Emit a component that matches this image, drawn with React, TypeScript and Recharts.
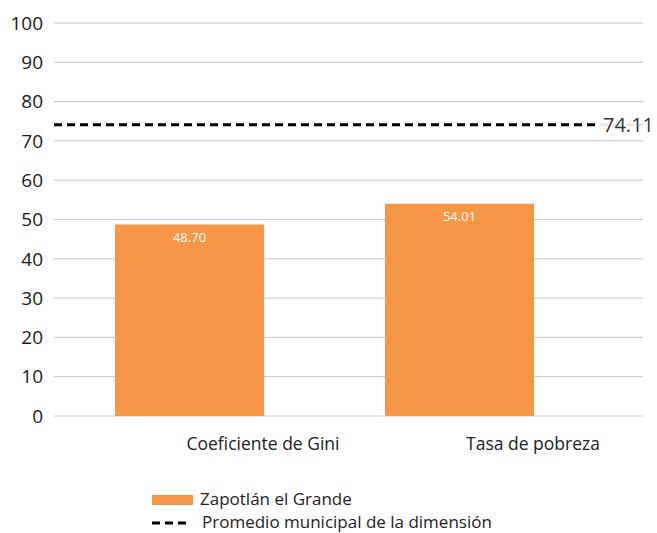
import { BarChart, Bar, XAxis, YAxis, CartesianGrid, ReferenceLine, Legend, LabelList } from "recharts";

// Indicadores de la dimensión, Zapotlán el Grande
const categories = ["Coeficiente de Gini", "Tasa de pobreza"];
const values = [48.7, 54.01];
const municipalAverage = 74.11;
const yTicks = [0, 10, 20, 30, 40, 50, 60, 70, 80, 90, 100];

const seriesName = "Zapotlán el Grande";
const averageName = "Promedio municipal de la dimensión";

const data = categories.map((name, i) => ({ name, value: values[i] }));

const FONT = "'Open Sans', 'Noto Sans', sans-serif";
const ORANGE = "#F79646";

function CategoryTick(props: any) {
  const { x, y, payload } = props;
  // labels sit under the right edge of each bar in the original
  return (
    <text x={x + 74} y={y} dy={26} textAnchor="middle" fontSize={17.5} fill="#222" fontFamily={FONT}>
      {payload.value}
    </text>
  );
}

function AverageLabel(props: any) {
  const { viewBox } = props;
  const right = viewBox.x + viewBox.width;
  return (
    <g>
      <rect x={right - 47} y={viewBox.y - 16} width={70} height={31} fill="#fff" fillOpacity={0.9} />
      <text x={right - 40} y={viewBox.y + 7} fontSize={20} fill="#333" fontFamily={FONT}>
        {municipalAverage.toFixed(2)}
      </text>
    </g>
  );
}

function LegendContent() {
  const text = { position: "absolute" as const, lineHeight: "20px", whiteSpace: "nowrap" as const };
  return (
    <div style={{ position: "relative", height: 48, fontFamily: FONT, fontSize: 17, color: "#222" }}>
      <span style={{ position: "absolute", left: 152, top: 10, width: 41, height: 10, background: ORANGE }} />
      <span style={{ ...text, left: 200, top: 4 }}>{seriesName}</span>
      <svg width={40} height={6} style={{ position: "absolute", left: 152, top: 35 }}>
        <line x1={0} y1={3} x2={36} y2={3} stroke="#000" strokeWidth={3} strokeDasharray="8 5" />
      </svg>
      <span style={{ ...text, left: 202, top: 27 }}>{averageName}</span>
    </div>
  );
}

export default function App() {
  return (
    <div style={{ position: "absolute", top: 0, left: 0, width: 657, height: 533, background: "#fff", overflow: "hidden" }}>
      <BarChart width={657} height={533} data={data} margin={{ top: 23, right: 14, left: 0, bottom: 0 }}>
        <CartesianGrid vertical={false} stroke="#c8c8c8" />
        <XAxis
          dataKey="name"
          padding={{ left: 0, right: 49 }}
          axisLine={false}
          tickLine={false}
          height={69}
          tick={<CategoryTick />}
        />
        <YAxis
          width={54}
          domain={[0, 100]}
          ticks={yTicks}
          axisLine={false}
          tickLine={false}
          tickSize={0}
          tickMargin={11}
          tick={{ fontSize: 19, fill: "#1a1a1a", fontFamily: FONT }}
        />
        <Legend verticalAlign="bottom" content={<LegendContent />} />
        <Bar dataKey="value" name={seriesName} fill={ORANGE} barSize={149} isAnimationActive={false}>
          <LabelList
            dataKey="value"
            position="insideTop"
            offset={8}
            fill="#fff"
            fontSize={13}
            fontFamily={FONT}
            formatter={(v: any) => Number(v).toFixed(2)}
          />
        </Bar>
        <ReferenceLine
          y={municipalAverage}
          stroke="#000"
          strokeWidth={3}
          strokeDasharray="8 5"
          label={<AverageLabel />}
        />
      </BarChart>
    </div>
  );
}
